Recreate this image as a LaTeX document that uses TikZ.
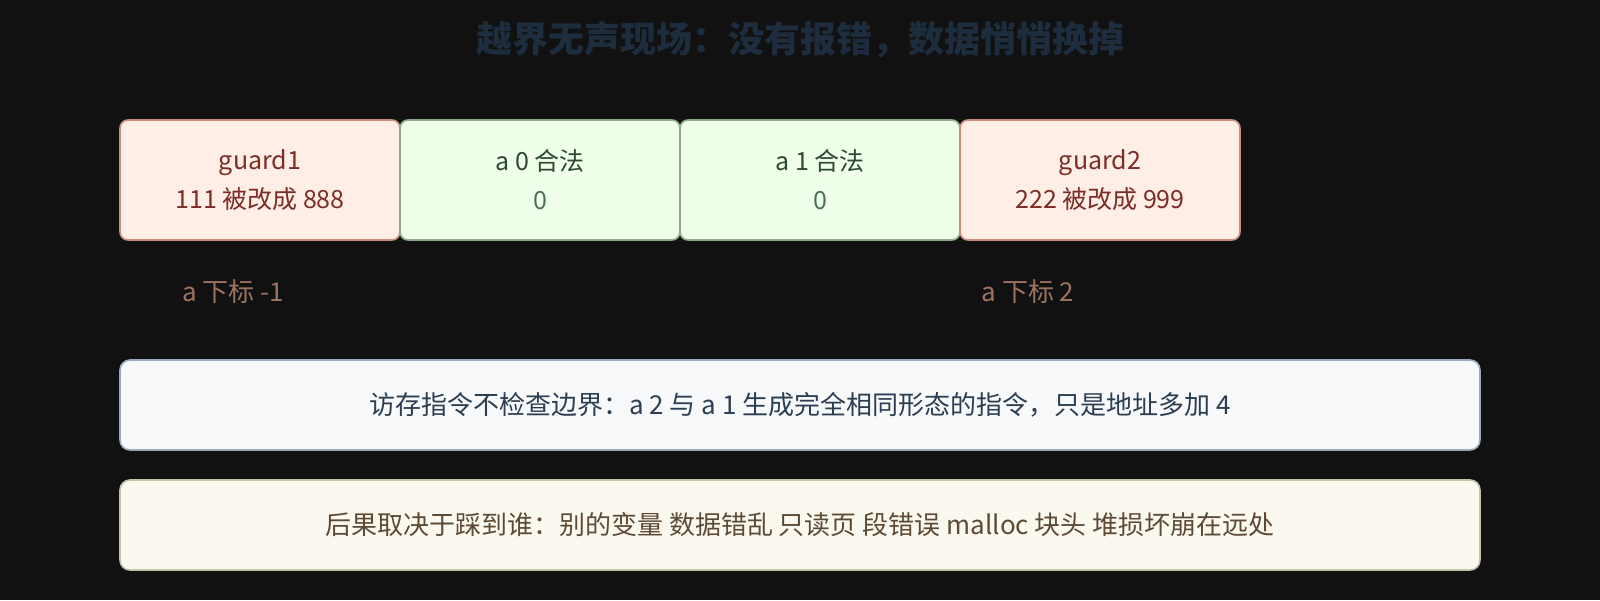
\documentclass[tikz,border=0pt]{standalone}
\usepackage{fontspec}
\setmainfont{Noto Sans CJK SC}
\usepackage{tikz}
\usetikzlibrary{positioning}
\definecolor{bg}{HTML}{111111}
\definecolor{ttl}{HTML}{1E2D3D}
\definecolor{gfill}{HTML}{FEEEE6}
\definecolor{gdraw}{HTML}{C98E80}
\definecolor{gtext}{HTML}{7B2D26}
\definecolor{ofill}{HTML}{EFFFEA}
\definecolor{odraw}{HTML}{8DAA8A}
\definecolor{otext}{HTML}{2E4A32}
\definecolor{oval}{HTML}{4E7260}
\definecolor{nfill}{HTML}{F7F9FB}
\definecolor{ndraw}{HTML}{9AAABB}
\definecolor{ntext}{HTML}{2C3E50}
\definecolor{wfill}{HTML}{FBF8F0}
\definecolor{wdraw}{HTML}{C5C2AC}
\definecolor{wtext}{HTML}{5D4A36}
\definecolor{idx}{HTML}{9C7360}
\tikzset{cell/.style={draw,line width=1.6pt,rounded corners=8pt,minimum width=280pt,minimum height=120pt,outer sep=0pt,inner sep=0pt,align=center,font=\fontsize{25}{39}\selectfont}}
\tikzset{guard/.style={cell,fill=gfill,draw=gdraw,text=gtext}}
\tikzset{ok/.style={cell,fill=ofill,draw=odraw,text=otext}}
\tikzset{note/.style={draw,line width=1.6pt,rounded corners=10pt,minimum width=1360pt,minimum height=90pt,outer sep=0pt,font=\fontsize{26}{30}\selectfont}}

\begin{document}
\begin{tikzpicture}[x=1pt,y=-1pt]
        \fill[bg] (0,0) rectangle (1600,600);
        \node(title)[text=ttl,font=\fontsize{36}{40}\selectfont\bfseries] at (800,40){越界无声现场：没有报错，数据悄悄换掉};
        % the array and its neighbours
        \node(g1)[guard,anchor=north west] at (120,120){guard1\\111 被改成 888};
        \node(a0)[ok,right=0pt of g1]{a 0 合法\\\textcolor{oval}{0}};
        \node(a1)[ok,right=0pt of a0]{a 1 合法\\\textcolor{oval}{0}};
        \node(g2)[guard,right=0pt of a1]{guard2\\222 被改成 999};
        \node(lo)[text=idx,font=\fontsize{26}{30}\selectfont] at (233,292){a 下标 -1};
        \node(hi)[text=idx,font=\fontsize{26}{30}\selectfont] at (1028,292){a 下标 2};
        \node(rule)[note,fill=nfill,draw=ndraw,text=ntext,anchor=north west] at (120,360){访存指令不检查边界：a 2 与 a 1 生成完全相同形态的指令，只是地址多加 4};
        \node(cost)[note,fill=wfill,draw=wdraw,text=wtext,below=30pt of rule]{后果取决于踩到谁：别的变量 数据错乱 只读页 段错误 malloc 块头 堆损坏崩在远处};
      \end{tikzpicture}
\end{document}
